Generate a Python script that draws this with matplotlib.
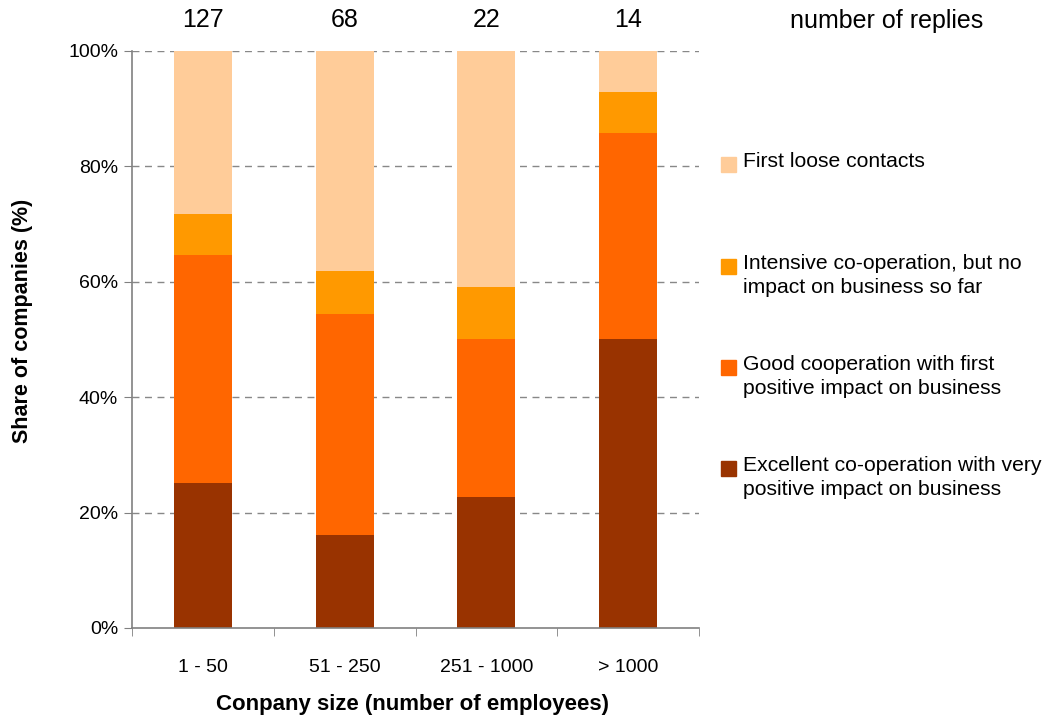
import numpy as np
import matplotlib.pyplot as plt
from matplotlib.patches import Rectangle
from matplotlib.ticker import PercentFormatter
from matplotlib.transforms import blended_transform_factory

plt.rcParams['font.family'] = ['Liberation Sans', 'DejaVu Sans']

sizes = ['1 - 50', '51 - 250', '251 - 1000', '> 1000']
replies = [127, 68, 22, 14]

# shares in %, bottom to top
excellent = [25.2, 16.2, 22.7, 50.0]
good = [39.4, 38.2, 27.3, 35.7]
intensive = [7.1, 7.4, 9.1, 7.2]
loose = [28.3, 38.2, 40.9, 7.1]

series = [
    ('Excellent co-operation with very\npositive impact on business', excellent, '#993300'),
    ('Good cooperation with first\npositive impact on business', good, '#FF6600'),
    ('Intensive co-operation, but no\nimpact on business so far', intensive, '#FF9900'),
    ('First loose contacts', loose, '#FFCC99'),
]

fig = plt.figure(figsize=(10.55, 7.15), dpi=100)
ax = fig.add_axes([0.1251, 0.1217, 0.5375, 0.807])

x = np.arange(len(sizes))
bottom = np.zeros(len(sizes))
for label, vals, color in series:
    ax.bar(x, vals, width=0.41, bottom=bottom, color=color, zorder=2)
    bottom += np.array(vals)

ax.set_xlim(-0.5, len(sizes) - 0.5)
ax.set_ylim(0, 100)
ax.set_yticks(np.arange(0, 101, 20))
ax.yaxis.set_major_formatter(PercentFormatter(decimals=0))
for y in range(20, 101, 20):
    ax.axhline(y, color='#888888', linestyle=(0, (5, 4)), linewidth=1, zorder=1)

ax.set_xticks(x)
ax.set_xticklabels(sizes)
ax.set_xticks(np.arange(-0.5, len(sizes)), minor=True)
ax.tick_params(axis='x', which='major', length=0, pad=22, labelsize=14)
ax.tick_params(axis='x', which='minor', length=6, color='#808080', direction='out')
ax.tick_params(axis='y', length=6, color='#808080', labelsize=14, pad=4)

for side in ['top', 'right']:
    ax.spines[side].set_visible(False)
for side in ['left', 'bottom']:
    ax.spines[side].set_color('#808080')
    ax.spines[side].set_linewidth(1.2)

ax.set_xlabel('Conpany size (number of employees)', fontsize=16, fontweight='bold')
ax.xaxis.set_label_coords(0.495, -0.114)
ax.set_ylabel('Share of companies (%)', fontsize=15.5, fontweight='bold')
ax.yaxis.set_label_coords(-0.175, 0.532)

# number of replies above the bars
trans = blended_transform_factory(ax.transData, ax.transAxes)
for xi, n in zip(x, replies):
    ax.text(xi, 1.054, str(n), transform=trans, ha='center', va='center', fontsize=18)
fig.text(0.8405, 0.971, 'number of replies', ha='center', va='center', fontsize=18)

# legend drawn by hand so the swatch sits on the first line
legend_rows = [164, 266, 367, 468]
for (label, vals, color), ypx in zip(series[::-1], legend_rows):
    yf = 1 - ypx / 715
    fig.add_artist(Rectangle((721 / 1055, yf - 7.5 / 715), 15 / 1055, 15 / 715,
                             transform=fig.transFigure, color=color))
    fig.text(743 / 1055, yf + 12 / 715, label, ha='left', va='top',
             fontsize=15.2, linespacing=1.32)

fig.savefig('out.png', dpi=100)
